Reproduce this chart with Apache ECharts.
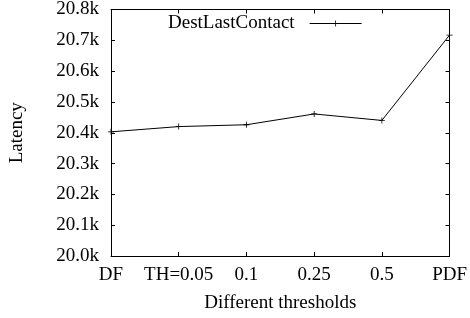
<!DOCTYPE html>
<html><head><meta charset="utf-8">
<script src="https://cdn.jsdelivr.net/npm/echarts@6/dist/echarts.min.js"></script>
<style>html,body{margin:0;padding:0;background:#fff}#c{width:470px;height:318px}</style>
</head><body><div id="c"></div>
<script>
const categories = ['DF', 'TH=0.05', '0.1', '0.25', '0.5', 'PDF'];
const latency = [20403, 20420, 20426, 20461, 20440, 20717];
const seriesName = 'DestLastContact';
const yMin = 20000, yMax = 20800, yStep = 100;

const font = 'Liberation Serif';
const fs = 19;
const plus = 'path://M-0.4,-3 L0.4,-3 L0.4,-0.4 L3,-0.4 L3,0.4 L0.4,0.4 L0.4,3 L-0.4,3 L-0.4,0.4 L-3,0.4 L-3,-0.4 L-0.4,-0.4 Z';
const chart = echarts.init(document.getElementById('c'));
const axisLine = {show: true, lineStyle: {color: '#000', width: 1}};
chart.setOption({
  animation: false,
  textStyle: {fontFamily: font},
  grid: {left: 110, right: 19, top: 6, bottom: 60},
  legend: {
    show: true, left: 163, top: 9, align: 'right',
    itemWidth: 52, itemHeight: 6, itemGap: 0,
    textStyle: {fontFamily: font, fontSize: fs, color: '#000', padding: [0, 10, 0, 0]},
    data: [{name: seriesName, icon: 'path://M0,2.6 L52,2.6 L52,3.4 L0,3.4 Z M25.6,0 L26.4,0 L26.4,6 L25.6,6 Z'}]
  },
  xAxis: [{
    type: 'category', data: categories, boundaryGap: false,
    name: 'Different thresholds', nameLocation: 'middle', nameGap: 38,
    nameTextStyle: {fontFamily: font, fontSize: fs, color: '#000'},
    axisLine: axisLine,
    axisTick: {show: true, inside: true, length: 4, alignWithLabel: true, lineStyle: {color: '#000'}},
    axisLabel: {fontFamily: font, fontSize: fs, color: '#000', margin: 10, interval: 0},
    splitLine: {show: false}
  }, {
    type: 'category', data: categories, boundaryGap: false, position: 'top',
    axisLine: axisLine,
    axisTick: {show: true, inside: true, length: 4, lineStyle: {color: '#000'}},
    axisLabel: {show: false}, splitLine: {show: false}
  }],
  yAxis: [{
    type: 'value', min: yMin, max: yMax, interval: yStep,
    name: 'Latency', nameLocation: 'middle', nameGap: 84, nameRotate: 90,
    nameTextStyle: {fontFamily: font, fontSize: fs, color: '#000'},
    axisLine: axisLine,
    axisTick: {show: true, inside: true, length: 4, lineStyle: {color: '#000'}},
    axisLabel: {fontFamily: font, fontSize: fs, color: '#000', margin: 12,
      formatter: v => (v / 1000).toFixed(1) + 'k'},
    splitLine: {show: false}
  }, {
    type: 'value', min: yMin, max: yMax, interval: yStep, position: 'right',
    axisLine: axisLine,
    axisTick: {show: true, inside: true, length: 4, lineStyle: {color: '#000'}},
    axisLabel: {show: false}, splitLine: {show: false}
  }],
  series: [{
    name: seriesName, type: 'line', data: latency,
    symbol: plus, symbolSize: 6, showSymbol: true,
    itemStyle: {color: '#000'},
    lineStyle: {color: '#000', width: 1}
  }]
});
</script></body></html>
